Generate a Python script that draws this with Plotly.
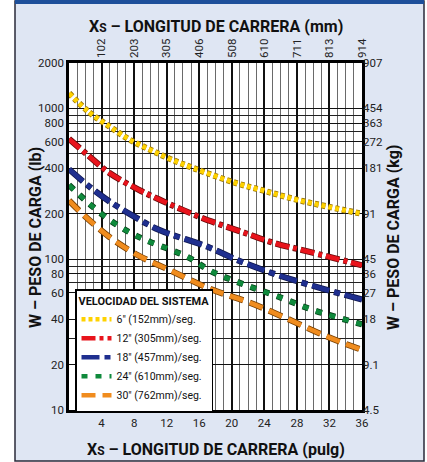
import plotly.graph_objects as go

# ---- data ----
x_6 = [0, 2.5, 5, 7.5, 10, 12.5, 15.5, 20.5, 24, 28, 32, 36]
w_6 = [1260, 940, 757, 618, 531, 460, 398, 320, 284, 248, 222, 200]

x_12 = [0, 2.5, 5, 8.5, 11, 14, 17.5, 21.5, 25, 29.5, 36]
w_12 = [628, 480, 372, 290, 250, 212, 178, 150, 129, 112, 91]

x_18 = [0, 2.5, 5, 8, 11, 17, 21, 25.5, 31.5, 36]
w_18 = [395, 303, 241, 192, 157, 121, 97, 79, 63, 54]

x_24 = [0, 2.5, 5, 7.5, 10, 14.5, 17.5, 21.5, 25.5, 30, 36]
w_24 = [310, 233, 182, 150, 130, 104, 83, 68, 57, 46, 37]

x_30 = [0, 2, 5, 8.5, 12.5, 17.5, 22, 26.5, 31.5, 36]
w_30 = [245, 192, 140, 106, 84, 63, 52, 41, 31, 25]

series_names = ['6" (152mm)/seg.', '12" (305mm)/seg.', '18" (457mm)/seg.',
                '24" (610mm)/seg.', '30" (762mm)/seg.']

x_ticks_in = [4, 8, 12, 16, 20, 24, 28, 32, 36]
x_ticks_mm = ["102", "203", "305", "406", "508", "610", "711", "813", "914"]
y_ticks_lb = [10, 20, 40, 60, 80, 100, 200, 400, 600, 800, 1000, 2000]
y_ticks_kg = ["4.5", "9.1", "18", "27", "36", "45", "91", "181", "272", "363", "454", "907"]
y_minor_grid = [30, 70, 90, 500, 700, 900]

# ---- styling ----
NARROW = "Roboto, Liberation Sans Narrow, sans-serif"
styles = [
    dict(color="#ffd200", edge="#9a7400", dash="4px,3px"),
    dict(color="#e8141c", edge="#6a0a0a", dash="14px,4px,4px,4px"),
    dict(color="#1f2f8f", edge="#101850", dash="18px,5px,6px,5px"),
    dict(color="#0f8a3c", edge="#064018", dash="6px,8px"),
    dict(color="#f08c1e", edge="#7a4000", dash="14px,7px"),
]
xs = [x_6, x_12, x_18, x_24, x_30]
ws = [w_6, w_12, w_18, w_24, w_30]

fig = go.Figure()
for xv, wv, st, nm in zip(xs, ws, styles, series_names):
    fig.add_trace(go.Scatter(x=xv, y=wv, mode="lines", showlegend=False, hoverinfo="skip",
                             line=dict(color=st["edge"], width=6.2, dash=st["dash"], shape="spline")))
    fig.add_trace(go.Scatter(x=xv, y=wv, mode="lines", name=nm,
                             line=dict(color=st["color"], width=4.6, dash=st["dash"], shape="spline")))

# invisible trace to bring up the top / right axes
fig.add_trace(go.Scatter(x=[0, 36], y=[10, 2000], xaxis="x2", yaxis="y2", mode="markers",
                         marker=dict(opacity=0), showlegend=False, hoverinfo="skip"))

W, H = 427, 462
L, R, T, B = 69, 362, 63, 410
def px(x): return (x - L) / (R - L)
def py(y): return (B - y) / (B - T)

shapes = [
    dict(type="rect", xref="paper", yref="paper", x0=px(15), x1=px(424), y0=py(461), y1=py(1),
         fillcolor="#dfe6f3", line=dict(color="#2a2a3a", width=1.5), layer="below"),
    dict(type="rect", xref="paper", yref="paper", x0=px(15), x1=px(424), y0=py(4), y1=py(0),
         fillcolor="#1d4f9a", line=dict(width=0), layer="below"),
    dict(type="rect", xref="paper", yref="paper", x0=0, x1=1, y0=0, y1=1,
         fillcolor="white", line=dict(width=0), layer="below"),
]

tickfont = dict(family=NARROW, size=11.5, color="#222")
title_font = dict(family=NARROW, size=16, color="#111")

fig.update_layout(
    width=W, height=H,
    margin=dict(l=L, r=W - R, t=T, b=H - B, pad=0),
    paper_bgcolor="white", plot_bgcolor="white",
    shapes=shapes,
    xaxis=dict(range=[0, 36], tickvals=x_ticks_in, ticks="", tickfont=tickfont,
               showgrid=True, gridcolor="#111", gridwidth=1.8,
               minor=dict(dtick=1, tick0=0, showgrid=True, gridcolor="#6a6a6a", gridwidth=1.3),
               showline=True, linecolor="black", linewidth=2.5, mirror=True, zeroline=False),
    yaxis=dict(type="log", range=[1, 3.30103], tickvals=y_ticks_lb,
               ticktext=[str(v) for v in y_ticks_lb], ticks="", tickfont=tickfont,
               showgrid=True, gridcolor="#111", gridwidth=1.4,
               minor=dict(tickvals=y_minor_grid, showgrid=True, gridcolor="#222", gridwidth=1.3),
               showline=True, linecolor="black", linewidth=2.5, mirror=True, zeroline=False),
    xaxis2=dict(range=[0, 36], overlaying="x", side="top", anchor="y2", tickvals=x_ticks_in,
                ticktext=x_ticks_mm, tickangle=-90, ticks="", tickfont=tickfont, showgrid=False,
                zeroline=False, ticklabelstandoff=4),
    yaxis2=dict(type="log", range=[1, 3.30103], overlaying="y", side="right", anchor="x2",
                tickvals=y_ticks_lb, ticktext=y_ticks_kg, ticks="", tickfont=tickfont,
                showgrid=False, zeroline=False),
    legend=dict(x=px(75), y=py(289), xanchor="left", yanchor="top",
                bgcolor="white", bordercolor="black", borderwidth=1.5,
                font=dict(family=NARROW, size=10.5, color="#111"),
                title=dict(text="<b>VELOCIDAD DEL SISTEMA</b>",
                           font=dict(family=NARROW, size=11, color="#111")),
                tracegroupgap=0, itemwidth=30),
    annotations=[
        dict(text="<b>X<span style='font-size:12px'>S</span> – LONGITUD DE CARRERA (mm)</b>",
             xref="paper", yref="paper", x=0.5, y=py(27), showarrow=False, font=title_font,
             xanchor="center", yanchor="middle"),
        dict(text="<b>X<span style='font-size:12px'>S</span> – LONGITUD DE CARRERA (pulg)</b>",
             xref="paper", yref="paper", x=0.5, y=py(449), showarrow=False, font=title_font,
             xanchor="center", yanchor="middle"),
        dict(text="<b>W – PESO DE CARGA (lb)</b>", textangle=-90,
             xref="paper", yref="paper", x=px(35), y=py(238), showarrow=False, font=title_font,
             xanchor="center", yanchor="middle"),
        dict(text="<b>W – PESO DE CARGA (kg)</b>", textangle=-90,
             xref="paper", yref="paper", x=px(393), y=py(238), showarrow=False, font=title_font,
             xanchor="center", yanchor="middle"),
    ],
)

fig.write_html("out.html", config={"displayModeBar": False},
               post_script="document.body.style.margin='0px';")
